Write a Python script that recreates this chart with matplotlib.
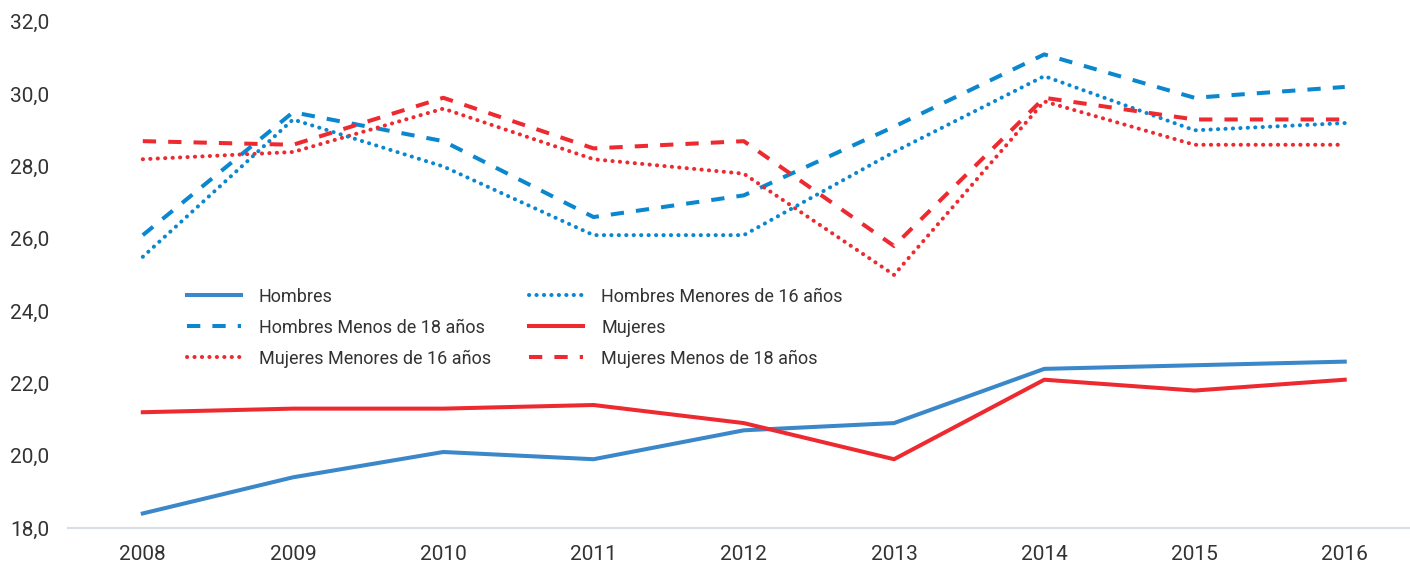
import matplotlib
matplotlib.use("Agg")
import matplotlib.pyplot as plt
from matplotlib.ticker import FuncFormatter

years = [2008, 2009, 2010, 2011, 2012, 2013, 2014, 2015, 2016]
hombres = [18.4, 19.4, 20.1, 19.9, 20.7, 20.9, 22.4, 22.5, 22.6]
mujeres = [21.2, 21.3, 21.3, 21.4, 20.9, 19.9, 22.1, 21.8, 22.1]
hombres_m18 = [26.1, 29.5, 28.7, 26.6, 27.2, 29.1, 31.1, 29.9, 30.2]
hombres_m16 = [25.5, 29.3, 28.0, 26.1, 26.1, 28.4, 30.5, 29.0, 29.2]
mujeres_m16 = [28.2, 28.4, 29.6, 28.2, 27.8, 25.0, 29.8, 28.6, 28.6]
mujeres_m18 = [28.7, 28.6, 29.9, 28.5, 28.7, 25.8, 29.9, 29.3, 29.3]
yticks = [18, 20, 22, 24, 26, 28, 30, 32]

plt.rcParams['font.family'] = ['Roboto', 'DejaVu Sans']

fig = plt.figure(figsize=(14.10, 5.61), dpi=100)
ax = fig.add_axes([0.048, 0.059, 0.959, 0.902])

blue_solid = '#3a87c9'
blue = '#0a87cf'
red = '#ee2a31'
lw = 2.9
dash = (0, (3.3, 3.0))
dot = (0, (0.05, 1.8))

l1, = ax.plot(years, hombres, color=blue_solid, lw=lw, label='Hombres')
l2, = ax.plot(years, hombres_m18, color=blue, lw=lw, ls=dash, label='Hombres Menos de 18 años')
l3, = ax.plot(years, mujeres_m16, color=red, lw=lw, ls=dot, dash_capstyle='round', label='Mujeres Menores de 16 años')
l4, = ax.plot(years, hombres_m16, color=blue, lw=lw, ls=dot, dash_capstyle='round', label='Hombres Menores de 16 años')
l5, = ax.plot(years, mujeres, color=red, lw=lw, label='Mujeres')
l6, = ax.plot(years, mujeres_m18, color=red, lw=lw, ls=dash, label='Mujeres Menos de 18 años')

ax.set_xlim(2007.5, 2016.5)
ax.set_ylim(18, 32)
ax.set_xticks(years)
ax.set_yticks(yticks)
ax.yaxis.set_major_formatter(FuncFormatter(lambda v, p: f"{v:.1f}".replace('.', ',')))
for s in ['top', 'right', 'left']:
    ax.spines[s].set_visible(False)
ax.spines['bottom'].set_color('#d9dde6')
ax.spines['bottom'].set_linewidth(1.5)
ax.tick_params(axis='both', length=0, labelsize=15, colors='#333333')
ax.tick_params(axis='y', pad=13)
ax.tick_params(axis='x', pad=12)

leg = ax.legend(handles=[l1, l2, l3, l4, l5, l6], ncol=2, frameon=False,
                fontsize=13, loc='upper left', bbox_to_anchor=(0.076, 0.507),
                handlelength=3.0, columnspacing=2.1, labelspacing=0.72, handletextpad=1.0)
for t in leg.get_texts():
    t.set_color('#333333')

fig.savefig('out.png', dpi=100)
